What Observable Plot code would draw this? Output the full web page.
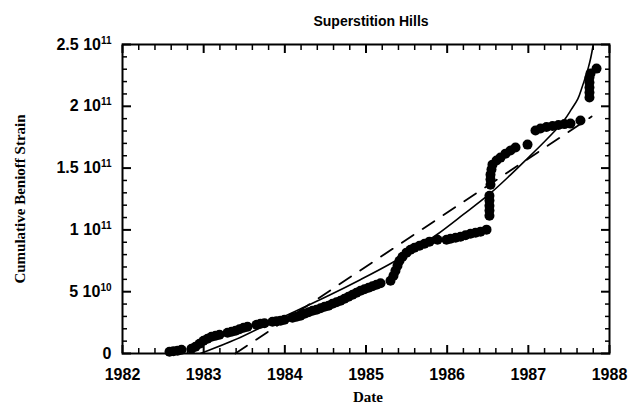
<!DOCTYPE html>
<html><head><meta charset="utf-8">
<script src="https://cdn.jsdelivr.net/npm/d3@7"></script>
<script src="https://cdn.jsdelivr.net/npm/@observablehq/plot@0.6"></script>
<style>html,body{margin:0;padding:0;background:#fff;}</style>
</head><body><div id="chart"></div>
<script>
// ---- text ----
const title = "Superstition Hills";
const xLabel = "Date";
const yLabel = "Cumulative Benioff Strain";

// ---- ticks (y in units of 1e10) ----
const xTicks = [1982, 1983, 1984, 1985, 1986, 1987, 1988];
const xTickLabels = ["1982", "1983", "1984", "1985", "1986", "1987", "1988"];
const yTicks = [0, 5, 10, 15, 20, 25];
const yTickLabels = ["0", "5 10^10", "1 10^11", "1.5 10^11", "2 10^11", "2.5 10^11"];

// ---- observed cumulative Benioff strain (dots), values in 1e10 ----
const dotYears = [1982.579,1982.628,1982.678,1982.727,1982.850,1982.899,1982.949,1982.998,1983.047,1983.096,
  1983.146,1983.195,1983.294,1983.343,1983.392,1983.441,1983.491,1983.540,1983.651,1983.700,
  1983.749,1983.848,1983.897,1983.947,1983.996,1984.094,1984.144,1984.193,1984.242,1984.292,
  1984.341,1984.390,1984.440,1984.489,1984.538,1984.587,1984.637,1984.686,1984.735,1984.784,
  1984.834,1984.883,1984.932,1984.981,1985.031,1985.080,1985.129,1985.179,1985.302,1985.339,
  1985.363,1985.388,1985.413,1985.450,1985.499,1985.548,1985.597,1985.659,1985.721,1985.782,
  1985.881,1985.992,1986.041,1986.103,1986.164,1986.226,1986.287,1986.349,1986.411,1986.485,
  1986.521,1986.521,1986.521,1986.521,1986.521,1986.534,1986.534,1986.534,1986.546,1986.558,
  1986.608,1986.657,1986.719,1986.780,1986.842,1986.990,1987.088,1987.150,1987.224,1987.298,
  1987.371,1987.445,1987.519,1987.642,1987.753,1987.753,1987.753,1987.753,1987.753,1987.766,1987.840];
const dotValues = [0.14,0.18,0.22,0.30,0.38,0.54,0.79,1.03,1.19,1.35,
  1.43,1.51,1.68,1.76,1.84,1.96,2.08,2.16,2.32,2.41,
  2.45,2.57,2.61,2.65,2.73,2.89,2.97,3.05,3.22,3.34,
  3.46,3.54,3.66,3.78,3.86,4.03,4.15,4.27,4.43,4.59,
  4.75,4.92,5.08,5.20,5.32,5.44,5.56,5.69,5.89,6.29,
  6.70,7.10,7.51,7.83,8.16,8.40,8.56,8.72,8.88,9.05,
  9.21,9.21,9.29,9.37,9.45,9.57,9.69,9.77,9.86,10.02,
  11.15,11.56,11.96,12.37,12.77,13.66,14.07,14.47,14.88,15.28,
  15.61,15.85,16.17,16.42,16.66,16.90,18.04,18.20,18.32,18.40,
  18.48,18.56,18.60,18.85,20.71,21.11,21.52,21.92,22.33,22.65,23.05];

// ---- accelerating fit (solid curve) ----
const fitYears = [1982.96,1983.45,1983.82,1984.19,1984.56,1984.93,1985.30,1985.59,1985.88,1986.20,
  1986.53,1986.78,1987.00,1987.17,1987.34,1987.45,1987.53,1987.61,1987.66,1987.70,1987.74,1987.77,1987.80];
const fitValues = [0,1.30,2.47,3.60,4.75,5.97,7.26,8.40,9.65,11.25,
  12.95,14.45,15.85,16.95,18.10,18.95,19.75,20.60,21.50,22.30,23.15,23.95,25.0];

// ---- linear trend (dashed line) ----
const trendYears = [1983.39, 1987.78];
const trendValues = [0, 19.17];

const W = 630, H = 408, mL = 122, mR = 21, mT = 44, mB = 55;

const dots = dotYears.map((t, i) => ({t, v: dotValues[i]}));
const fit = fitYears.map((t, i) => ({t, v: fitValues[i]}));
const trend = trendYears.map((t, i) => ({t, v: trendValues[i]}));
const xMinor = d3.range(1982, 1988.001, 0.2).filter(d => Math.abs(d - Math.round(d)) > 0.01);
const yMinor = d3.range(0, 25.001, 1).filter(d => d % 5 !== 0);

const sans = "'Liberation Sans', Arial, Helvetica, sans-serif";
const serif = "'Liberation Serif', 'Times New Roman', serif";
const blank = () => "";

// inward tick marks on one side of the frame
function inTicks(axis, anchor, ticks, size, sw) {
  const opt = {anchor, tickSize: size, tickFormat: blank, label: null, strokeWidth: sw, stroke: "black"};
  if (anchor === "bottom") opt.dy = -size;
  if (anchor === "top") opt.dy = size;
  if (anchor === "left") opt.dx = size;
  if (anchor === "right") opt.dx = -size;
  return axis(ticks, opt);
}

const chart = Plot.plot({
  width: W, height: H,
  marginLeft: mL, marginRight: mR, marginTop: mT, marginBottom: mB,
  x: {domain: [1982, 1988], label: null},
  y: {domain: [0, 25], label: null},
  style: {fontFamily: sans, background: "white", color: "black"},
  marks: [
    Plot.line(trend, {x: "t", y: "v", stroke: "black", strokeWidth: 1.8, strokeDasharray: "14,11"}),
    Plot.line(fit, {x: "t", y: "v", curve: "catmull-rom", stroke: "black", strokeWidth: 1.6, clip: true}),
    Plot.dot(dots, {x: "t", y: "v", r: 5, fill: "black"}),
    Plot.frame({stroke: "black", strokeWidth: 2}),
    inTicks(Plot.axisX, "bottom", xTicks, 8, 2),
    inTicks(Plot.axisX, "top", xTicks, 8, 2),
    inTicks(Plot.axisX, "bottom", xMinor, 5, 1.5),
    inTicks(Plot.axisX, "top", xMinor, 5, 1.5),
    inTicks(Plot.axisY, "left", yTicks, 9, 2),
    inTicks(Plot.axisY, "right", yTicks, 9, 2),
    inTicks(Plot.axisY, "left", yMinor, 5, 1.5),
    inTicks(Plot.axisY, "right", yMinor, 5, 1.5),
    Plot.axisX(xTicks, {anchor: "bottom", tickSize: 0, tickPadding: 15, label: null,
      tickFormat: d => xTickLabels[xTicks.indexOf(d)], fontSize: 16, fontWeight: "bold"}),
    Plot.axisY(yTicks, {anchor: "left", tickSize: 0, tickPadding: 11, label: null,
      tickFormat: d => yTickLabels[yTicks.indexOf(d)], fontSize: 16, fontWeight: "bold"}),
    Plot.text([title], {text: d => d, frameAnchor: "top", dy: -23, dx: 5, lineAnchor: "middle",
      textAnchor: "middle", fontSize: 14, fontWeight: "bold", fontFamily: sans, fill: "black"}),
    Plot.text([xLabel], {text: d => d, frameAnchor: "bottom", dy: 44, dx: 2, lineAnchor: "middle",
      textAnchor: "middle", fontSize: 15, fontWeight: "bold", fontFamily: serif, fill: "black"}),
    Plot.text([yLabel], {text: d => d, frameAnchor: "left", dx: -102, rotate: -90, lineAnchor: "middle",
      textAnchor: "middle", fontSize: 15, fontWeight: "bold", fontFamily: serif, fill: "black"})
  ]
});

// superscript exponents in y tick labels
chart.querySelectorAll('g[aria-label="y-axis tick label"] text').forEach(t => {
  const s = t.textContent;
  if (!s.includes("^")) return;
  const [base, exp] = s.split("^");
  t.textContent = "";
  const ns = "http://www.w3.org/2000/svg";
  const a = document.createElementNS(ns, "tspan");
  a.textContent = base;
  const b = document.createElementNS(ns, "tspan");
  b.textContent = exp;
  b.setAttribute("font-size", "10");
  b.setAttribute("dy", "-6");
  t.appendChild(a); t.appendChild(b);
});

document.getElementById("chart").appendChild(chart);
</script>
</body></html>
